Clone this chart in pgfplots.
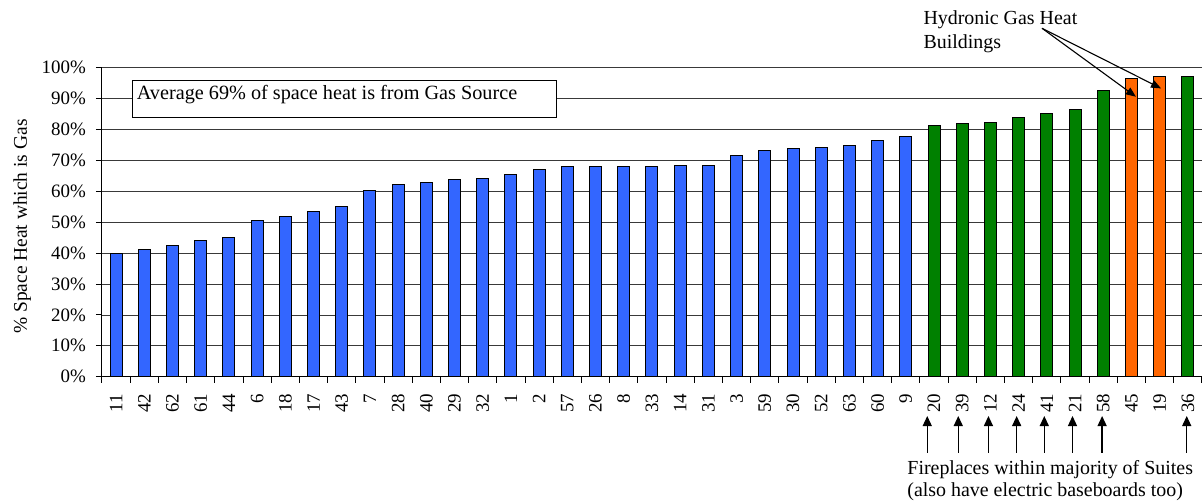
\documentclass[border=0pt]{standalone}
\usepackage{fontspec}
\setmainfont{Liberation Serif}
\usepackage{pgfplots}
\pgfplotsset{compat=1.18}
\usetikzlibrary{arrows.meta}
\definecolor{barblue}{HTML}{3366FF}
\definecolor{bargreen}{HTML}{008000}
\definecolor{barorange}{HTML}{FF6600}
\tikzset{upar/.style={-{Triangle[length=10bp,width=9bp]}, line width=1.3bp}}
\begin{document}
\begin{tikzpicture}
\begin{axis}[
  scale only axis, width=1100bp, height=309bp,
  xmin=-0.5, xmax=38.5, ymin=0, ymax=100,
  axis lines=left, axis line style={-, line width=1bp, black},
  clip=false,
  xtick={0,...,38},
  xticklabels={11,42,62,61,44,6,18,17,43,7,28,40,29,32,1,2,57,26,8,33,14,31,3,59,30,52,63,60,9,20,39,12,24,41,21,58,45,19,36},
  ytick={0,10,...,100},
  yticklabel={\pgfmathprintnumber{\tick}\%},
  /pgf/number format/assume math mode=true,
  major tick length=0pt, minor tick length=6bp, tick align=outside,
  minor xtick={-0.5,0.5,...,38.5},
  minor ytick={0,10,...,100},
  tick style={black, line width=1bp},
  ymajorgrids, grid style={gray!45!black, line width=0.8bp},
  tick label style={font=\fontsize{19}{22}\selectfont},
  xticklabel style={rotate=90, anchor=east, inner sep=0pt},
  yticklabel style={anchor=east, inner sep=0pt},
  xticklabel shift=17bp, yticklabel shift=16bp,
  ylabel={\% Space Heat which is Gas},
  every axis y label/.style={at={(rel axis cs:-0.0682,0.486)}, rotate=90, anchor=base, font=\fontsize{19.5}{22}\selectfont},
]
\addplot[ybar, bar width=12bp, bar shift=0pt, fill=barblue, draw=black, line width=1bp] coordinates {
(0,40.0) (1,41.3) (2,42.6) (3,44.1) (4,45.1) (5,50.4) (6,52.0) (7,53.5) (8,55.0) (9,60.2)
(10,62.1) (11,62.8) (12,63.8) (13,64.1) (14,65.3) (15,67.0) (16,67.9) (17,67.9) (18,68.0) (19,68.0)
(20,68.4) (21,68.4) (22,71.5) (23,73.3) (24,73.8) (25,74.2) (26,74.7) (27,76.3) (28,77.7)};
\addplot[ybar, bar width=12bp, bar shift=0pt, fill=bargreen, draw=black, line width=1bp] coordinates {
(29,81.4) (30,82.0) (31,82.2) (32,84.0) (33,85.3) (34,86.6) (35,92.7) (38,97.3)};
\addplot[ybar, bar width=12bp, bar shift=0pt, fill=barorange, draw=black, line width=1bp] coordinates {
(36,96.4) (37,97.2)};
\coordinate (O) at (rel axis cs:0,0);
\draw[line width=1bp, fill=white] (axis cs:0.588,83.95) rectangle (axis cs:15.621,95.7);
\node[anchor=base west, inner sep=0pt, font=\fontsize{20.3}{24}\selectfont] at (axis cs:0.73,89.77) {Average 69\% of space heat is from Gas Source};
\node[anchor=base west, inner sep=0pt, font=\fontsize{20}{24}\selectfont] at (axis cs:28.62,114.14) {Hydronic Gas Heat};
\node[anchor=base west, inner sep=0pt, font=\fontsize{20}{24}\selectfont] at (axis cs:28.62,106.28) {Buildings};
\draw[-{Triangle[length=10bp,width=8bp]}, line width=1.1bp] (axis cs:32.83,112.75) -- (axis cs:36.16,90.6);
\draw[-{Triangle[length=10bp,width=8bp]}, line width=1.1bp] (axis cs:32.83,112.75) -- (axis cs:37.05,93.3);
\draw[upar] (axis cs:28.76,-24.6) -- (axis cs:28.76,-12.72);
\draw[upar] (axis cs:29.86,-24.6) -- (axis cs:29.86,-12.72);
\draw[upar] (axis cs:30.93,-24.6) -- (axis cs:30.93,-12.72);
\draw[upar] (axis cs:31.93,-24.6) -- (axis cs:31.93,-12.72);
\draw[upar] (axis cs:32.91,-24.6) -- (axis cs:32.91,-12.72);
\draw[upar] (axis cs:33.91,-24.6) -- (axis cs:33.91,-12.72);
\draw[upar] (axis cs:34.96,-24.6) -- (axis cs:34.96,-12.72);
\draw[upar] (axis cs:37.96,-24.6) -- (axis cs:37.96,-12.72);
\node[anchor=base west, inner sep=0pt, font=\fontsize{20}{24}\selectfont] at (axis cs:28.05,-31.8) {Fireplaces within majority of Suites};
\node[anchor=base west, inner sep=0pt, font=\fontsize{20}{24}\selectfont] at (axis cs:28.05,-38.93) {(also have electric baseboards too)};
\end{axis}
\pgfresetboundingbox
\path[use as bounding box] ([shift={(-102bp,-127.3bp)}]O) rectangle ([shift={(1100bp,376.7bp)}]O);
\end{tikzpicture}
\end{document}
